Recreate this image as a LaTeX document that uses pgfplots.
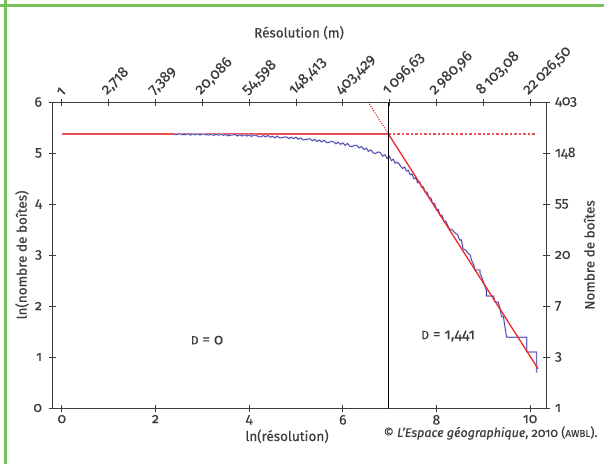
\documentclass[border=0pt]{standalone}
\usepackage{fontspec}
\setmainfont{Fira Sans}[Numbers=OldStyle, FakeBold=0.3]
\usepackage{pgfplots}
\usepackage{pgfplotstable}
\pgfplotsset{compat=1.18}
\definecolor{frameg}{RGB}{120,192,90}
\definecolor{axgray}{RGB}{60,60,60}
\definecolor{cblue}{RGB}{58,58,170}
\definecolor{cred}{RGB}{238,40,40}
\definecolor{credl}{RGB}{236,80,80}

\pgfplotstableread{
x y
2.40 5.370
2.45 5.360
2.50 5.381
2.55 5.367
2.60 5.361
2.65 5.363
2.70 5.382
2.75 5.349
2.80 5.376
2.85 5.358
2.90 5.378
2.95 5.350
3.00 5.373
3.05 5.367
3.10 5.356
3.15 5.352
3.20 5.369
3.25 5.345
3.30 5.371
3.35 5.348
3.40 5.372
3.45 5.344
3.50 5.365
3.55 5.336
3.60 5.347
3.65 5.355
3.70 5.364
3.75 5.333
3.80 5.356
3.85 5.333
3.90 5.361
3.95 5.332
4.00 5.352
4.05 5.325
4.10 5.350
4.15 5.345
4.20 5.322
4.25 5.318
4.30 5.342
4.35 5.318
4.40 5.343
4.45 5.308
4.50 5.330
4.55 5.297
4.60 5.329
4.65 5.299
4.70 5.300
4.75 5.312
4.80 5.314
4.85 5.281
4.90 5.311
4.95 5.281
5.00 5.310
5.05 5.270
5.10 5.298
5.15 5.255
5.20 5.262
5.25 5.271
5.30 5.280
5.35 5.240
5.40 5.268
5.45 5.225
5.50 5.255
5.55 5.216
5.60 5.250
5.65 5.207
5.70 5.205
5.75 5.225
5.80 5.222
5.85 5.178
5.90 5.214
5.95 5.168
6.00 5.200
6.05 5.149
6.10 5.188
6.15 5.134
6.20 5.125
6.25 5.150
6.30 5.149
6.35 5.098
6.40 5.128
6.45 5.067
6.50 5.097
6.55 5.031
6.60 5.064
6.65 5.001
6.70 4.990
6.75 5.020
6.80 5.010
6.85 4.935
6.90 4.967
6.95 4.890
7.00 4.935
7.04 4.849
7.08 4.879
7.12 4.796
7.16 4.823
7.20 4.790
7.24 4.735
7.28 4.696
7.32 4.726
7.36 4.643
7.40 4.663
7.44 4.571
7.48 4.591
7.52 4.494
7.56 4.514
7.60 4.415
7.64 4.434
7.68 4.330
7.72 4.339
7.76 4.228
7.80 4.235
7.84 4.117
7.88 4.123
7.92 4.007
7.96 4.011
8.00 3.889
8.04 3.896
8.08 3.772
8.12 3.781
8.16 3.659
8.20 3.666
8.25 3.560
8.29 3.490
8.33 3.500
8.40 3.430
8.45 3.400
8.50 3.290
8.53 3.300
8.57 3.120
8.62 3.100
8.68 3.030
8.72 3.000
8.75 2.900
8.80 2.800
8.82 2.708
8.93 2.708
8.93 2.639
8.97 2.565
9.00 2.485
9.03 2.398
9.07 2.303
9.07 2.197
9.22 2.197
9.25 2.079
9.32 2.079
9.36 1.946
9.39 1.792
9.43 1.792
9.46 1.609
9.50 1.386
9.93 1.386
9.93 1.099
10.14 1.099
10.14 0.693
}\boxdata

\pgfplotstableread{
x y
0 5.38
6.97 5.38
}\fitflat

\pgfplotstableread{
x y
6.97 5.38
10.17 0.769
}\fitslope

\pgfplotstableread{
x y
6.97 5.38
10.10 5.38
}\fithoriz

\pgfplotstableread{
x y
6.54 6.0
6.97 5.38
}\fitup

\begin{document}
\begin{tikzpicture}[x=1pt,y=1pt]
\path[use as bounding box] (0,0) rectangle (604,464);
\fill[white] (0,0) rectangle (604,464);
\draw[frameg, line width=3pt] (0,458) -- (604,458);
\draw[frameg, line width=3pt] (5.5,464) -- (5.5,0);

\begin{axis}[
  at={(52pt,56pt)}, anchor=south west,
  scale only axis, width=494pt, height=306pt,
  xmin=-0.21, xmax=10.34, ymin=0, ymax=6,
  axis line style={axgray, line width=0.8pt},
  tick style={axgray, line width=0.8pt},
  tick align=center, major tick length=7pt,
  xtick pos=bottom, ytick pos=left,
  xtick={0,2,4,6,8,10}, xticklabels={0,2,4,6,8,10},
  ytick={0,1,2,3,4,5,6}, yticklabels={0,1,2,3,4,5,6},
  ticklabel style={font=\fontsize{14}{16}\selectfont, text=axgray},
  yticklabel style={xshift=-3pt},
  label style={font=\fontsize{13.5}{15}\selectfont, text=axgray},
  xlabel={ln(résolution)},
  xlabel style={xshift=-12pt, yshift=2pt},
  ylabel={ln(nombre de boîtes)},
  ylabel style={yshift=-2pt},
  clip=false,
]
\addplot[credl, line width=2pt] table {\fitflat};
\addplot[cblue!22, line width=1.8pt, line join=round] table {\boxdata};
\addplot[cblue, line width=0.7pt, line join=round] table {\boxdata};
\addplot[cred, line width=1.3pt] table {\fitslope};
\addplot[credl, line width=2pt, dash pattern=on 2.5pt off 2pt] table {\fithoriz};
\addplot[cred, line width=1.2pt, dash pattern=on 1pt off 1.5pt] table {\fitup};
\addplot[black, line width=0.9pt] coordinates {(6.97,0) (6.97,6)};
\node[font=\fontsize{15}{17}\selectfont, text=axgray] at (axis cs:3.1,1.33) {{\fontsize{12}{13}\selectfont D} = 0};
\node[font=\fontsize{15}{17}\selectfont, text=axgray] at (axis cs:8.25,1.41) {{\fontsize{12}{13}\selectfont D} = 1,441};
\end{axis}

\begin{axis}[
  at={(52pt,56pt)}, anchor=south west,
  scale only axis, width=494pt, height=306pt,
  xmin=-0.21, xmax=10.34, ymin=0, ymax=6,
  axis x line*=top, axis y line*=right,
  axis line style={axgray, line width=0.8pt, -},
  tick style={axgray, line width=0.8pt},
  tick align=center, major tick length=7pt,
  xtick={0,1,2,3,4,5,6,7,8,9,10},
  xticklabels={1,{2,718},{7,389},{20,086},{54,598},{148,413},{403,429},{1\,096,63},{2\,980,96},{8\,103,08},{22\,026,50}},
  ytick={0,1,2,3,4,5,6},
  yticklabels={1,3,7,20,55,148,403},
  ticklabel style={font=\fontsize{14}{16}\selectfont, text=axgray},
  xticklabel style={rotate=45, anchor=south west, inner sep=1pt, font=\fontsize{15}{17}\selectfont},
  yticklabel style={xshift=2pt},
  label style={font=\fontsize{13.5}{15}\selectfont, text=axgray},
  xlabel={Résolution (m)},
  ylabel={Nombre de boîtes},
]
\addplot[draw=none] coordinates {(0,0)};
\end{axis}

\node[anchor=east, font=\fontsize{12.5}{14}\selectfont, text=axgray] at (601,31) {© \textit{L’Espace géographique}, 2010 ({\fontsize{10}{11}\selectfont AWBL}).};
\end{tikzpicture}
\end{document}
